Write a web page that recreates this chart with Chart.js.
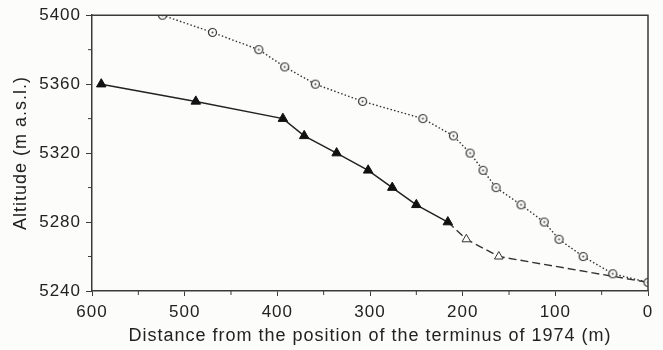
<!DOCTYPE html>
<html>
<head>
<meta charset="utf-8">
<script src="https://cdn.jsdelivr.net/npm/chart.js@4"></script>
<style>
html,body{margin:0;padding:0;background:#fcfdfb;}
#wrap{width:663px;height:350px;position:relative;}
</style>
</head>
<body>
<div id="wrap"><canvas id="c"></canvas></div>
<script>
// Data (distance from terminus of 1974 in m, altitude in m a.s.l.)
const circleDist = [524, 470, 420, 392, 359, 308, 243, 210, 192, 178, 164, 137, 112, 96, 70, 38, 0];
const circleAlt  = [5400, 5390, 5380, 5370, 5360, 5350, 5340, 5330, 5320, 5310, 5300, 5290, 5280, 5270, 5260, 5250, 5245];
const solidTriDist = [590, 488, 394, 371, 336, 302, 276, 250, 216];
const solidTriAlt  = [5360, 5350, 5340, 5330, 5320, 5310, 5300, 5290, 5280];
const openTriDist = [216, 196, 161, 0];
const openTriAlt  = [5280, 5270, 5260, 5245];
const xTicks = [600, 500, 400, 300, 200, 100, 0];
const yTicks = [5240, 5280, 5320, 5360, 5400];
const xTitle = 'Distance from the position of the terminus of 1974 (m)';
const yTitle = 'Altitude (m a.s.l.)';

const toPts = (xs, ys) => xs.map((x, i) => ({x: x, y: ys[i]}));
const ink = '#222';
const FONT = 'Liberation Sans, Arial, sans-serif';

// circle-with-dot marker
const mk = document.createElement('canvas');
mk.width = 11; mk.height = 11;
(function(){
  const c = mk.getContext('2d');
  c.fillStyle = '#fcfdfb';
  c.strokeStyle = '#333';
  c.lineWidth = 1.2;
  c.beginPath(); c.arc(5.5, 5.5, 4, 0, Math.PI*2); c.fill(); c.stroke();
  c.fillStyle = '#444';
  c.beginPath(); c.arc(5.5, 5.5, 1.0, 0, Math.PI*2); c.fill();
})();

const spacing = {
  id: 'spacing',
  beforeLayout(chart){ chart.ctx.letterSpacing = '1px'; },
  beforeDraw(chart){ chart.ctx.letterSpacing = '1px'; }
};

const frame = {
  id: 'frame',
  afterDatasetsDraw(chart){
    const {ctx, chartArea: a, scales} = chart;
    ctx.save();
    ctx.strokeStyle = '#3a3a3a';
    ctx.lineWidth = 1.5;
    ctx.beginPath();
    ctx.moveTo(a.left, a.top); ctx.lineTo(a.right, a.top); ctx.lineTo(a.right, a.bottom);
    ctx.stroke();
    // minor ticks
    ctx.lineWidth = 1;
    ctx.beginPath();
    for (let i = 0; i < xTicks.length - 1; i++) {
      const px = scales.x.getPixelForValue((xTicks[i] + xTicks[i+1]) / 2);
      ctx.moveTo(px, a.bottom); ctx.lineTo(px, a.bottom + 4);
    }
    for (let i = 0; i < yTicks.length - 1; i++) {
      const py = scales.y.getPixelForValue((yTicks[i] + yTicks[i+1]) / 2);
      ctx.moveTo(a.left, py); ctx.lineTo(a.left - 4, py);
    }
    ctx.stroke();
    ctx.restore();
  }
};

new Chart(document.getElementById('c'), {
  type: 'scatter',
  data: {
    datasets: [
      {
        data: toPts(circleDist, circleAlt),
        showLine: true,
        borderColor: '#333',
        borderWidth: 1.4,
        borderDash: [1.5, 2.2],
        pointStyle: mk,
        pointRadius: 4,
        order: 1
      },
      {
        data: toPts(openTriDist, openTriAlt),
        showLine: true,
        borderColor: '#333',
        borderWidth: 1.4,
        borderDash: [8, 4],
        pointStyle: 'triangle',
        pointRadius: [0, 5, 5, 0],
        pointBackgroundColor: '#fcfdfb',
        pointBorderColor: '#333',
        pointBorderWidth: 1,
        order: 2
      },
      {
        data: toPts(solidTriDist, solidTriAlt),
        showLine: true,
        borderColor: '#222',
        borderWidth: 1.5,
        pointStyle: 'triangle',
        pointRadius: 5.5,
        pointBackgroundColor: '#111',
        pointBorderColor: '#111',
        pointBorderWidth: 1,
        order: 0
      }
    ]
  },
  options: {
    responsive: true,
    maintainAspectRatio: false,
    animation: false,
    events: [],
    layout: {padding: {top: 15, right: 15, left: 0, bottom: 0}},
    plugins: {legend: {display: false}, tooltip: {enabled: false}},
    scales: {
      x: {
        type: 'linear',
        reverse: true,
        min: 0, max: 600,
        afterBuildTicks(s){ s.ticks = xTicks.map(v => ({value: v})); },
        afterFit(s){ s.height = 59; },
        border: {color: '#3a3a3a', width: 1.5},
        grid: {drawOnChartArea: false, tickLength: 5, tickColor: '#3a3a3a', tickWidth: 1},
        ticks: {color: ink, font: {family: FONT, size: 17}, padding: 6, maxRotation: 0, autoSkip: false, callback: v => String(v)},
        title: {display: true, text: xTitle, color: ink, font: {family: FONT, size: 18}, padding: {top: 0, bottom: 3}}
      },
      y: {
        type: 'linear',
        min: 5240, max: 5400,
        afterBuildTicks(s){ s.ticks = yTicks.map(v => ({value: v})); },
        afterFit(s){ s.width = 92; },
        border: {color: '#3a3a3a', width: 1.5},
        grid: {drawOnChartArea: false, tickLength: 6, tickColor: '#3a3a3a', tickWidth: 1},
        ticks: {color: ink, font: {family: FONT, size: 17}, padding: 5, autoSkip: false, callback: v => String(v)},
        title: {display: true, text: yTitle, color: ink, font: {family: FONT, size: 18}, padding: {top: 10, bottom: 0}}
      }
    }
  },
  plugins: [spacing, frame]
});
</script>
</body>
</html>
